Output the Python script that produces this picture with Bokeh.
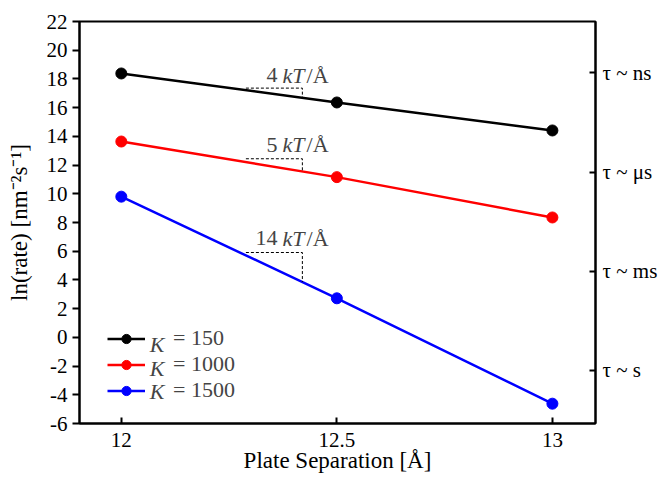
import numpy as np
from bokeh.plotting import figure
from bokeh.models import (Range1d, FixedTicker, LinearAxis, CustomJSTickFormatter,
                          NumeralTickFormatter, Legend, LegendItem, Label)
from bokeh.embed import file_html
from bokeh.resources import INLINE

# ---------------- data ----------------
separation = [12.0, 12.5, 13.0]
k_values = ["150", "1000", "1500"]
rate_k150 = [18.38, 16.36, 14.41]
rate_k1000 = [13.64, 11.16, 8.35]
rate_k1500 = [9.80, 2.72, -4.62]
series = [rate_k150, rate_k1000, rate_k1500]
colors = ["black", "red", "blue"]
slope_numbers = ["4", "5", "14"]
y_ticks = list(range(-6, 23, 2))
x_ticks = [12, 12.5, 13]
tau_labels = ["τ ~ s", "τ ~ ms", "τ ~ μs", "τ ~ ns"]
tau_ticks = [float(np.log(1e-1)), float(np.log(1e2)), float(np.log(1e5)), float(np.log(1e8))]

# ------------- annotation placement (data coords) -------------
step_x0, step_x1 = 12.289, 12.42
step_y = [17.36, 12.44, 5.91]
slope_text_x = 12.374
slope_text_y = [18.25, 13.40, 6.90]
legend_k_x = 12.066
legend_k_y = [-0.50, -2.20, -3.75]

FONT = "Liberation Serif"

p = figure(width=660, height=480, output_backend="svg", toolbar_location=None,
           x_range=Range1d(11.903, 13.1), y_range=Range1d(-6, 22),
           min_border_left=79, min_border_right=64, min_border_top=21, min_border_bottom=57,
           x_axis_label="Plate Separation [Å]", y_axis_label="ln(rate) [nm⁻²s⁻¹]")
p.grid.visible = False
p.outline_line_color = "black"
p.outline_line_width = 2
p.background_fill_color = "white"
p.border_fill_color = "white"

xa = p.xaxis[0]
xa.ticker = FixedTicker(ticks=x_ticks)
xa.formatter = NumeralTickFormatter(format="0.[0]")
xa.major_tick_in = 6
xa.major_tick_out = 0
xa.major_label_standoff = 9
xa.axis_label_standoff = -2

ya = p.yaxis[0]
ya.ticker = FixedTicker(ticks=y_ticks)
ya.formatter = CustomJSTickFormatter(code="return tick.toFixed(0);")
ya.major_tick_in = 0
ya.major_tick_out = 7
ya.major_label_standoff = 5
ya.axis_label_standoff = 12

ra = LinearAxis(ticker=FixedTicker(ticks=tau_ticks),
                formatter=CustomJSTickFormatter(args=dict(labels=tau_labels),
                                                code="return labels[index];"),
                major_tick_in=6, major_tick_out=0, major_label_standoff=7)
p.add_layout(ra, "right")

for ax in [xa, ya, ra]:
    ax.axis_line_color = "black"
    ax.axis_line_width = 2
    ax.major_tick_line_color = "black"
    ax.major_tick_line_width = 2
    ax.minor_tick_line_color = None
    ax.major_label_text_font = FONT
    ax.major_label_text_font_size = "21px"
    ax.major_label_text_color = "black"
    ax.axis_label_text_font = FONT
    ax.axis_label_text_font_size = "23px"
    ax.axis_label_text_font_style = "normal"
    ax.axis_label_text_color = "black"
ra.major_label_text_font_size = "21px"

items = []
for vals, col, kv in zip(series, colors, k_values):
    ln = p.line(separation, vals, line_color=col, line_width=2.5)
    pt = p.scatter(separation, vals, size=11, fill_color=col, line_color=col)
    items.append(LegendItem(label="= " + kv, renderers=[ln, pt]))

legend = Legend(items=items, location=(28, 20), orientation="vertical",
                glyph_width=38, glyph_height=23, label_height=23, label_width=10,
                label_standoff=28, padding=0, margin=0, spacing=-3,
                border_line_alpha=0, background_fill_alpha=0,
                label_text_font=FONT, label_text_font_size="22px")
p.add_layout(legend)

# italic K in front of legend labels
for yy in legend_k_y:
    p.add_layout(Label(x=legend_k_x, y=yy, text="K", text_font=FONT, text_font_size="22px",
                       text_font_style="italic", text_baseline="middle", text_align="left"))

# slope step markers and labels
for vals, sy, ty, num in zip(series, step_y, slope_text_y, slope_numbers):
    y_end = float(np.interp(step_x1, separation, vals))
    p.line([step_x0, step_x1, step_x1], [sy, sy, y_end], line_color="black",
           line_width=1, line_dash="3 2")
    p.add_layout(Label(x=slope_text_x, y=ty, text=num, x_offset=-5, text_font=FONT,
                       text_font_size="22px", text_align="right", text_baseline="alphabetic"))
    p.add_layout(Label(x=slope_text_x, y=ty, text="kT", text_font=FONT, text_font_style="italic",
                       text_font_size="22px", text_align="left", text_baseline="alphabetic"))
    p.add_layout(Label(x=slope_text_x, y=ty, text="/Å", x_offset=24, text_font=FONT,
                       text_font_size="22px", text_align="left", text_baseline="alphabetic"))

open("out.html", "w").write(file_html(p, INLINE))
